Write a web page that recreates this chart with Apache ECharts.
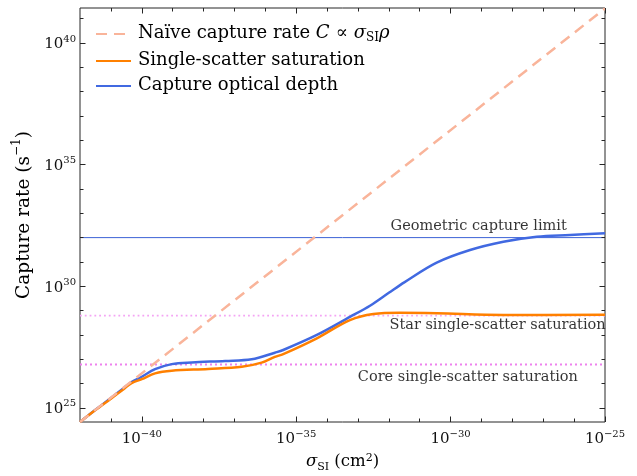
<!DOCTYPE html>
<html><head><meta charset="utf-8">
<script src="https://cdn.jsdelivr.net/npm/echarts@6/dist/echarts.min.js"></script>
<style>html,body{margin:0;padding:0;background:#fff}#c{width:637px;height:476px}</style>
</head><body><div id="c"></div>
<script>
// All values are log10 exponents (axes are drawn in decades)
const sigmaRangeExp = [-42, -25];          // sigma_SI (cm^2)
const rateRangeExp = [24.42, 41.44];       // capture rate (s^-1)
const xTickExp = [-41,-40,-39,-38,-37,-36,-35,-34,-33,-32,-31,-30,-29,-28,-27,-26];
const xLabelExp = [-40, -35, -30, -25];
const yTickExp = [25,26,27,28,29,30,31,32,33,34,35,36,37,38,39,40,41];
const yLabelExp = [25, 30, 35, 40];

const naiveSigmaExp = [-42, -25];
const naiveRateExp = [24.42, 41.42];

const opticalSigmaExp = [-42, -41.5, -41.0, -40.6, -40.33, -40.0, -39.57, -39.03, -38.38, -37.30, -36.44, -35.69, -35.42, -34.33, -33.26, -32.61, -32.0, -31.5, -30.45, -29.37, -28.29, -27.21, -26.13, -25];
const opticalRateExp = [24.42, 24.92, 25.41, 25.80, 26.06, 26.28, 26.59, 26.80, 26.87, 26.93, 27.00, 27.27, 27.38, 28.00, 28.74, 29.20, 29.73, 30.16, 30.97, 31.49, 31.83, 32.04, 32.11, 32.18];

const singleSigmaExp = [-42, -41.5, -41.0, -40.6, -40.33, -40.0, -39.57, -39.03, -37.85, -36.76, -36.12, -35.69, -35.42, -34.33, -33.26, -32.50, -31.64, -30.45, -28.29, -25];
const singleRateExp = [24.42, 24.91, 25.38, 25.76, 26.02, 26.18, 26.42, 26.53, 26.60, 26.69, 26.86, 27.10, 27.21, 27.86, 28.61, 28.86, 28.91, 28.89, 28.82, 28.83];

const geometricLimitExp = 32.0;
const starSaturationExp = 28.79;
const coreSaturationExp = 26.78;

const pts = (xs, ys) => xs.map((x, i) => [x, ys[i]]);
const hline = e => [[sigmaRangeExp[0], e], [sigmaRangeExp[1], e]];

const FONT = 'DejaVu Serif';
const AX = '#262626';
const TXT = '#000';
const supTxt = v => String(Math.round(v)).replace('-', '\u2212');
const tickRich = {
  b: {fontFamily: FONT, fontSize: 15, lineHeight: 18, verticalAlign: 'bottom', color: '#111'},
  s: {fontFamily: FONT, fontSize: 10, lineHeight: 8, verticalAlign: 'top', color: '#111'}
};

function axis(dim, pos, ticks, len, labels) {
  const isX = dim === 'x';
  const ax = {
    type: 'value', position: pos, scale: true,
    min: isX ? sigmaRangeExp[0] : rateRangeExp[0],
    max: isX ? sigmaRangeExp[1] : rateRangeExp[1],
    splitLine: {show: false},
    axisLine: {show: false, onZero: false},
    axisTick: {show: true, inside: true, length: len, customValues: ticks, lineStyle: {color: AX, width: 1}},
    axisLabel: {show: false},
    z: 10
  };
  if (labels) {
    ax.axisLabel = {
      show: true, customValues: labels, margin: isX ? 7 : 4,
      formatter: v => '{b|10}{s|' + supTxt(v) + '}', rich: tickRich
    };
  }
  return ax;
}

const xAxes = [
  axis('x', 'bottom', xLabelExp, 5.5, xLabelExp),
  axis('x', 'bottom', xTickExp, 3.5),
  axis('x', 'top', xLabelExp, 5.5),
  axis('x', 'top', xTickExp, 3.5)
];
const yAxes = [
  axis('y', 'left', yLabelExp, 5.5, yLabelExp),
  axis('y', 'left', yTickExp, 3.5),
  axis('y', 'right', yLabelExp, 5.5),
  axis('y', 'right', yTickExp, 3.5)
];
xAxes[0].name = '{i|\u03c3}{s|SI}{n| (cm}{p|2}{n|)}';
xAxes[0].nameLocation = 'middle';
xAxes[0].nameGap = 31;
xAxes[0].nameTextStyle = {rich: {
  i: {fontFamily: FONT, fontStyle: 'italic', fontSize: 16.5, lineHeight: 20, verticalAlign: 'top', color: TXT},
  n: {fontFamily: FONT, fontSize: 16.5, lineHeight: 20, verticalAlign: 'top', color: TXT},
  s: {fontFamily: FONT, fontSize: 11, lineHeight: 10, verticalAlign: 'bottom', color: TXT},
  p: {fontFamily: FONT, fontSize: 11, lineHeight: 10, verticalAlign: 'top', color: TXT}
}};
yAxes[0].name = '{n|Capture rate (s}{p|\u22121}{n|)}';
yAxes[0].nameLocation = 'middle';
yAxes[0].nameGap = 45;
yAxes[0].nameTextStyle = {rich: {
  n: {fontFamily: FONT, fontSize: 18.5, lineHeight: 22, verticalAlign: 'bottom', color: TXT},
  p: {fontFamily: FONT, fontSize: 12, lineHeight: 10, verticalAlign: 'top', color: TXT}
}};

const legendNames = {
  'Naive': '{n|Na\u00efve capture rate }{i|C}{m|\u221d}{i|\u03c3}{s|SI}{i|\u03c1}',
  'Single': '{n|Single-scatter saturation}',
  'Optical': '{n|Capture optical depth}'
};

const annoStyle = {fontFamily: FONT, fontSize: 14.5, color: TXT, textBorderWidth: 0};

const option = {
  animation: false,
  backgroundColor: '#fff',
  grid: {left: 80, right: 32, top: 8, bottom: 54, containLabel: false, outerBoundsMode: 'none',
         show: true, borderColor: AX, borderWidth: 1, backgroundColor: 'transparent'},
  xAxis: xAxes,
  yAxis: yAxes,
  legend: {
    orient: 'vertical', left: 90, top: 19, itemWidth: 35, itemHeight: 14, itemGap: 7,
    data: ['Naive', 'Single', 'Optical'],
    formatter: n => legendNames[n],
    itemStyle: {opacity: 0},
    textStyle: {padding: [0, 0, 0, 2], rich: {
      n: {fontFamily: FONT, fontSize: 18, lineHeight: 20, verticalAlign: 'top', color: TXT},
      m: {fontFamily: FONT, fontSize: 18, lineHeight: 20, verticalAlign: 'top', color: TXT, padding: [0, 6, 0, 6]},
      i: {fontFamily: FONT, fontStyle: 'italic', fontSize: 18, lineHeight: 20, verticalAlign: 'top', color: TXT},
      s: {fontFamily: FONT, fontSize: 12, lineHeight: 10, verticalAlign: 'bottom', color: TXT}
    }}
  },
  series: [
    {name: 'geo', type: 'line', data: hline(geometricLimitExp), symbol: 'none', silent: true,
     lineStyle: {color: '#3d63d6', width: 1}, z: 2},
    {name: 'star', type: 'line', data: hline(starSaturationExp), symbol: 'none', silent: true,
     lineStyle: {color: '#f4a4f4', width: 1.8, type: [1.8, 3]}, z: 2},
    {name: 'core', type: 'line', data: hline(coreSaturationExp), symbol: 'none', silent: true,
     lineStyle: {color: '#ee82ee', width: 2, type: [2, 3]}, z: 2},
    {name: 'Optical', type: 'line', data: pts(opticalSigmaExp, opticalRateExp), symbol: 'none',
     smooth: 0.35, lineStyle: {color: '#4169e1', width: 2.5}, itemStyle: {color: '#4169e1'}, z: 3},
    {name: 'Single', type: 'line', data: pts(singleSigmaExp, singleRateExp), symbol: 'none',
     smooth: 0.35, lineStyle: {color: '#ff8000', width: 2.5}, itemStyle: {color: '#ff8000'}, z: 4},
    {name: 'Naive', type: 'line', data: pts(naiveSigmaExp, naiveRateExp), symbol: 'none',
     lineStyle: {color: '#f9b49a', width: 2.5, type: [11, 7]}, itemStyle: {color: '#f9b49a'}, z: 5},
    {name: 'labels', type: 'scatter', symbolSize: 1, itemStyle: {color: 'rgba(0,0,0,0)'}, silent: true, z: 6,
     label: {show: true, position: 'inside', formatter: p => p.name, ...annoStyle},
     data: [
       {name: 'Geometric capture limit', value: [-29.09, 32.48]},
       {name: 'Star single-scatter saturation', value: [-28.48, 28.41]},
       {name: 'Core single-scatter saturation', value: [-29.44, 26.27]}
     ]}
  ]
};
const chart = echarts.init(document.getElementById('c'), null, {renderer: 'canvas'});
chart.setOption(option);
</script></body></html>
